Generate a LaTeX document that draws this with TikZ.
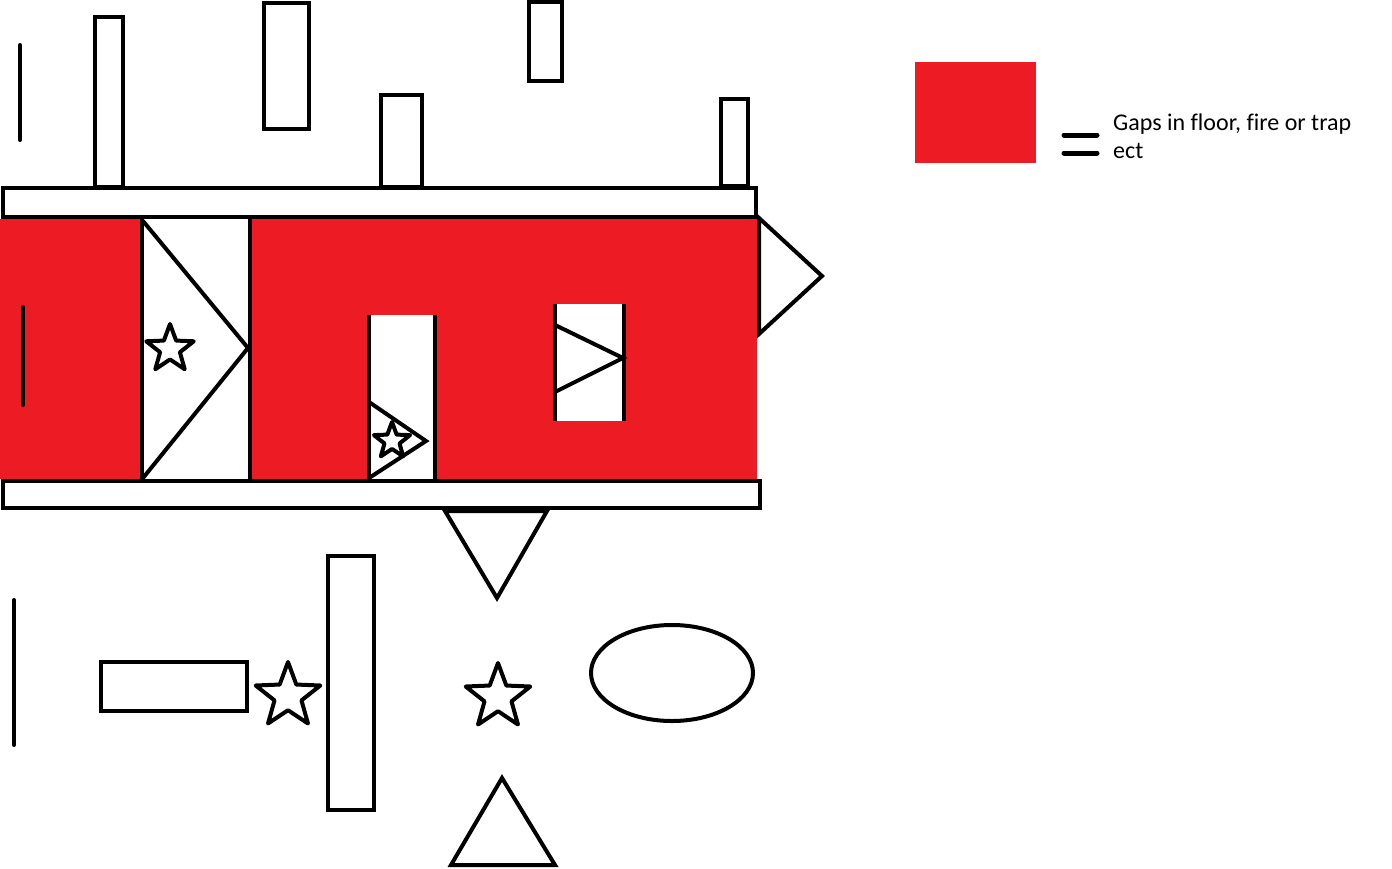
\documentclass[tikz,border=0pt]{standalone}
\usepackage{fontspec}
\setmainfont[Ligatures=NoCommon]{Carlito}
\usetikzlibrary{shapes.geometric}
\definecolor{paintred}{HTML}{ED1C24}
\begin{document}
\begin{tikzpicture}[x=1pt,y=-1pt,
  outl/.style={draw=black,line width=4pt},
  wall/.style={draw=black,line width=4pt,fill=white},
  starshape/.style={star,star points=5,star point ratio=2.4,draw=black,line width=4pt,line join=round,fill=white,inner sep=0pt,minimum size=#1},
  stick/.style={draw=black,line width=4pt,line cap=round},
  legendtext/.style={anchor=base west,inner sep=0pt,font=\fontsize{24}{29}\selectfont}]
\fill[white] (0,0) rectangle (1392,868);
\useasboundingbox (0,0) rectangle (1392,868);

% red gaps
\fill[paintred] (0,219) rectangle (140,479);
\fill[paintred] (252,219) rectangle (757,479);
\fill[white] (369,315) rectangle (435,479);
\fill[white] (555,304) rectangle (624,421);

% inner lines
\draw[outl] (142,219) -- (142,481);
\draw[outl] (250,219) -- (250,481);
\draw[outl] (143,221) -- (248,348) -- (143,478);
\draw[outl] (369,315) -- (369,483);
\draw[outl] (435,315) -- (435,479);
\draw[outl] (369,402) -- (426,441) -- (369,478);
\draw[outl] (555,304) -- (555,421);
\draw[outl] (624,304) -- (624,421);
\draw[outl] (555,325) -- (623,358) -- (555,392);
\draw[stick] (23,307) -- (23,405);

% top pillars
\draw[wall] (95,17) rectangle (123,187);
\draw[wall] (264,3) rectangle (309,129);
\draw[wall] (381,95) rectangle (422,187);
\draw[wall] (529,2) rectangle (562,81);
\draw[wall] (721,99) rectangle (748,186);
\draw[stick] (20,45) -- (20,140);

% bars
\draw[wall] (3,188) rectangle (756,217);
\draw[wall] (3,481) rectangle (760,508);

% triangles
\draw[outl] (759,218) -- (822,276) -- (759,334) -- cycle;
\draw[outl] (445,511) -- (547,511) -- (497,598) -- cycle;
\draw[outl] (502,778) -- (555,865) -- (451,865) -- cycle;

% lower shapes
\draw[stick] (14,600) -- (14,745);
\draw[wall] (101,662) rectangle (247,711);
\draw[wall] (328,556) rectangle (374,810);
\draw[outl] (672,673) ellipse [x radius=81pt, y radius=48pt];

% stars
\node[starshape=50pt] (s1) at (170,349) {};
\node[starshape=38pt] (s2) at (392,441) {};
\node[starshape=68pt] (s3) at (288,696) {};
\node[starshape=68pt] (s4) at (498,697) {};

% legend
\fill[paintred] (915,62) rectangle (1036,163);
\draw[stick,line width=5pt] (1064,135) -- (1097,135);
\draw[stick,line width=5pt] (1064,153) -- (1097,153);
\node[legendtext] (t1) at (1113,130) {Gaps in floor, fire or trap};
\node[legendtext] (t2) at (1113,158) {ect};
\end{tikzpicture}
\end{document}
